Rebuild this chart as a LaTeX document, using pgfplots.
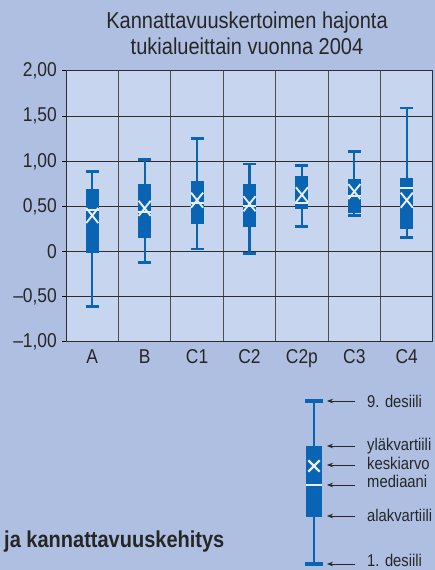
\documentclass[border=0pt]{standalone}
\usepackage{pgfplots}
\pgfplotsset{compat=1.18}
\usepgfplotslibrary{statistics}
\usetikzlibrary{arrows.meta}
\usepackage{fontspec}
\setmainfont{Liberation Sans}[FakeStretch=0.87]
\definecolor{bg}{HTML}{AEBFE2}
\definecolor{plotbg}{HTML}{C7D5EF}
\definecolor{boxblue}{HTML}{0A64B4}
\definecolor{wh}{HTML}{E8EEF8}
\definecolor{gridc}{HTML}{2E2E2E}
\begin{document}
\begin{tikzpicture}
\fill[bg] (0pt,0pt) rectangle (435pt,570pt);
\clip (0pt,0pt) rectangle (435pt,570pt);
\node[font=\fontsize{23}{26}\selectfont, anchor=base, inner sep=0pt, text=black!85] at (247pt,541pt) {Kannattavuuskertoimen hajonta};
\node[font=\fontsize{23}{26}\selectfont, anchor=base, inner sep=0pt, text=black!85] at (247pt,515pt) {tukialueittain vuonna 2004};
\node[font=\fontsize{23}{26}\selectfont\bfseries, anchor=base west, inner sep=0pt, text=black!85] at (4pt,22pt) {ja kannattavuuskehitys};
\begin{axis}[at={(66pt,228pt)}, anchor=south west, width=367pt, height=271pt, scale only axis,
  xmin=-0.5, xmax=6.5, ymin=-1, ymax=2,
  axis background/.style={fill=plotbg},
  xtick={0,1,2,3,4,5,6}, xticklabels={A,B,C1,C2,C2p,C3,C4},
  major x tick style={draw=none},
  minor xtick={0.5,1.5,2.5,3.5,4.5,5.5}, minor x tick style={draw=none},
  xtick pos=bottom, ytick pos=left,
  xminorgrids=true, ymajorgrids=true,
  grid style={draw=gridc, line width=1pt},
  minor grid style={draw=gridc!85, line width=1pt},
  ytick={-1,-0.5,0,0.5,1,1.5,2},
  yticklabels={{–1,00},{–0,50},{0},{0,50},{1,00},{1,50},{2,00}},
  tick align=outside, major tick length=4pt,
  y tick style={black, line width=1pt},
  axis line style={draw=gridc, line width=1pt},
  ticklabel style={font=\fontsize{20}{20}\selectfont, text=black!85},
  yticklabel style={anchor=east, inner sep=0pt, xshift=-5pt},
  xticklabel style={anchor=base, inner sep=0pt, yshift=-18pt},
  boxplot/draw direction=y,
  boxplot/box extend=0.25,
  boxplot/whisker extend=0,
  boxplot/every box/.style={fill=boxblue, draw=none},
  boxplot/every whisker/.style={draw=boxblue, line width=2pt},
  boxplot/every median/.style={draw=wh, line width=2pt},
  clip=false,
]
\addplot[boxplot prepared={lower whisker=-0.61, lower quartile=-0.02, median=0.46, upper quartile=0.69, upper whisker=0.886, draw position=0}] coordinates {};
\addplot[boxplot prepared={lower whisker=-0.12, lower quartile=0.155, median=0.44, upper quartile=0.746, upper whisker=1.02, draw position=1}] coordinates {};
\addplot[boxplot prepared={lower whisker=0.03, lower quartile=0.31, median=0.54, upper quartile=0.78, upper whisker=1.25, draw position=2}] coordinates {};
\addplot[boxplot prepared={lower whisker=-0.02, lower quartile=0.27, median=0.50, upper quartile=0.75, upper whisker=0.97, draw position=3}] coordinates {};
\addplot[boxplot prepared={lower whisker=0.28, lower quartile=0.47, median=0.54, upper quartile=0.84, upper whisker=0.95, draw position=4}] coordinates {};
\addplot[boxplot prepared={lower whisker=0.40, lower quartile=0.43, median=0.62, upper quartile=0.80, upper whisker=1.11, draw position=5}] coordinates {};
\addplot[boxplot prepared={lower whisker=0.155, lower quartile=0.25, median=0.71, upper quartile=0.82, upper whisker=1.59, draw position=6}] coordinates {};
% whisker caps (9. and 1. decile)
\addplot[only marks, mark=-, mark size=6.5pt, mark options={draw=boxblue, line width=2.7pt}] coordinates {
(0,0.886) (0,-0.61) (1,1.02) (1,-0.12) (2,1.25) (2,0.03) (3,0.97) (3,-0.02)
(4,0.95) (4,0.28) (5,1.11) (5,0.40) (6,1.59) (6,0.155)};
% means
\addplot[only marks, mark=x, mark size=8.5pt, mark options={draw=wh, line width=1.9pt, yscale=1.25}] coordinates {
(0,0.40) (1,0.48) (2,0.57) (3,0.53) (4,0.63) (5,0.665) (6,0.57)};
\end{axis}
% explanation
\begin{axis}[at={(264pt,0pt)}, anchor=south west, width=100pt, height=570pt, scale only axis,
  xmin=-50, xmax=50, ymin=0, ymax=570, hide axis, clip=false,
  boxplot/draw direction=y,
  boxplot/box extend=16,
  boxplot/whisker extend=0,
  boxplot/every box/.style={fill=boxblue, draw=none},
  boxplot/every whisker/.style={draw=boxblue, line width=2pt},
  boxplot/every median/.style={draw=wh, line width=2.5pt},
]
\addplot[boxplot prepared={lower whisker=6, lower quartile=53, median=85, upper quartile=124, upper whisker=169, draw position=0}] coordinates {};
\addplot[only marks, mark=-, mark size=9pt, mark options={draw=boxblue, line width=4.5pt}] coordinates {(0,169) (0,6)};
\addplot[only marks, mark=x, mark size=8pt, mark options={draw=wh, line width=2.2pt}] coordinates {(0,104)};
\draw[-{Stealth[length=6pt,width=4.5pt]}, line width=0.7pt, black!85] (axis cs:41,169) -- (axis cs:13,169);
\draw[-{Stealth[length=6pt,width=4.5pt]}, line width=0.7pt, black!85] (axis cs:41,124) -- (axis cs:13,124);
\draw[-{Stealth[length=6pt,width=4.5pt]}, line width=0.7pt, black!85] (axis cs:41,105) -- (axis cs:13,105);
\draw[-{Stealth[length=6pt,width=4.5pt]}, line width=0.7pt, black!85] (axis cs:41,85) -- (axis cs:13,85);
\draw[-{Stealth[length=6pt,width=4.5pt]}, line width=0.7pt, black!85] (axis cs:41,54) -- (axis cs:13,54);
\draw[-{Stealth[length=6pt,width=4.5pt]}, line width=0.7pt, black!85] (axis cs:41,6) -- (axis cs:13,6);
\node[font=\fontsize{17}{17}\selectfont, anchor=base west, inner sep=0pt, text=black!85] at (axis cs:53,162) {9. desiili};
\node[font=\fontsize{17}{17}\selectfont, anchor=base west, inner sep=0pt, text=black!85] at (axis cs:53,119) {yläkvartiili};
\node[font=\fontsize{17}{17}\selectfont, anchor=base west, inner sep=0pt, text=black!85] at (axis cs:53,100) {keskiarvo};
\node[font=\fontsize{17}{17}\selectfont, anchor=base west, inner sep=0pt, text=black!85] at (axis cs:53,82) {mediaani};
\node[font=\fontsize{17}{17}\selectfont, anchor=base west, inner sep=0pt, text=black!85] at (axis cs:53,48.5) {alakvartiili};
\node[font=\fontsize{17}{17}\selectfont, anchor=base west, inner sep=0pt, text=black!85] at (axis cs:53,3.5) {1. desiili};
\end{axis}
\end{tikzpicture}
\end{document}
